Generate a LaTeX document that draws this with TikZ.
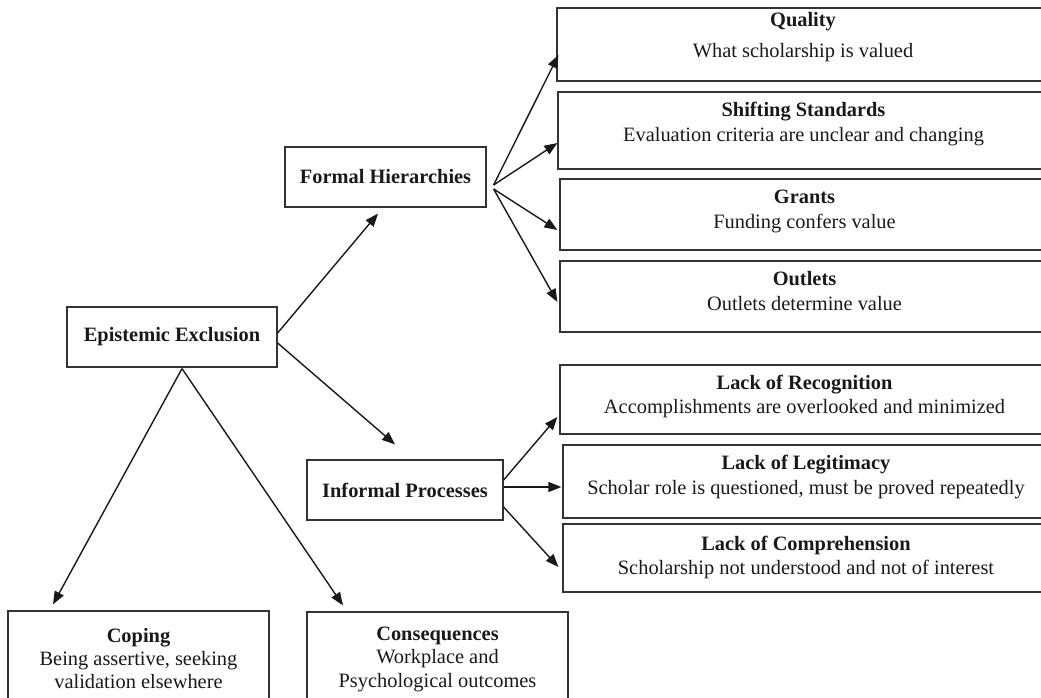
\documentclass[tikz,border=0pt]{standalone}
\usepackage{fontspec}
\setmainfont{Liberation Serif}
\usetikzlibrary{arrows.meta,calc}
\begin{document}
\begin{tikzpicture}[x=1pt,y=-1pt,
  box/.style={draw=black!80, line width=1.2pt, inner sep=0pt, rectangle},
  bigbox/.style={box, font=\fontsize{20.4}{25}\selectfont\bfseries, text=black!90},
  txt/.style={anchor=base, inner sep=0pt, font=\fontsize{20.4}{25}\selectfont, text=black!90},
  ttl/.style={anchor=base, inner sep=0pt, font=\fontsize{20.4}{25}\selectfont\bfseries, text=black!90},
  arr/.style={draw=black!90, line width=1.4pt, -{Triangle[length=13pt,width=10pt]}}]
\useasboundingbox (0,0) rectangle (1041,698);

% main boxes
\node[bigbox, minimum width=210pt, minimum height=60pt] (ee) at (172,337) {Epistemic Exclusion};
\node[bigbox, minimum width=201pt, minimum height=60pt] (fh) at (385.5,177) {Formal Hierarchies};
\node[bigbox, minimum width=196pt, minimum height=60pt] (ip) at (405,490) {Informal Processes};

% right boxes (formal)
\node[box, minimum width=492pt, minimum height=73pt] (q) at (803,44.5) {};
\node[ttl] (qt) at (803,27) {Quality};
\node[txt] (qs) at (803,58) {What scholarship is valued};

\node[box, minimum width=491pt, minimum height=77pt] (ss) at (803.5,130.5) {};
\node[ttl] (sst) at (803.5,117) {Shifting Standards};
\node[txt] (sss) at (803.5,142) {Evaluation criteria are unclear and changing};

\node[box, minimum width=489pt, minimum height=71pt] (gr) at (804.5,214.5) {};
\node[ttl] (grt) at (804.5,203) {Grants};
\node[txt] (grs) at (804.5,228) {Funding confers value};

\node[box, minimum width=489pt, minimum height=71pt] (ou) at (804.5,296.5) {};
\node[ttl] (out) at (804.5,285) {Outlets};
\node[txt] (ous) at (804.5,310) {Outlets determine value};

% right boxes (informal)
\node[box, minimum width=489pt, minimum height=69pt] (rec) at (804.5,399.5) {};
\node[ttl] (rect) at (804.5,389) {Lack of Recognition};
\node[txt] (recs) at (804.5,413) {Accomplishments are overlooked and minimized};

\node[box, minimum width=486pt, minimum height=73pt] (leg) at (806,481.5) {};
\node[ttl] (legt) at (806,469) {Lack of Legitimacy};
\node[txt] (legs) at (806,494) {Scholar role is questioned, must be proved repeatedly};

\node[box, minimum width=486pt, minimum height=68pt] (comp) at (806,558) {};
\node[ttl] (compt) at (806,550) {Lack of Comprehension};
\node[txt] (comps) at (806,574) {Scholarship not understood and not of interest};

% bottom boxes
\node[box, minimum width=261pt, minimum height=94pt] (cop) at (138.5,658) {};
\node[ttl] (copt) at (138.5,642) {Coping};
\node[txt] (cops1) at (138.5,665) {Being assertive, seeking};
\node[txt] (cops2) at (138.5,688) {validation elsewhere};

\node[box, minimum width=261pt, minimum height=93pt] (con) at (437.5,658.5) {};
\node[ttl] (cont) at (437.5,640) {Consequences};
\node[txt] (cons1) at (437.5,663) {Workplace and};
\node[txt] (cons2) at (437.5,687) {Psychological outcomes};

% connectors
\draw[arr] ($(ee.east)+(0,-4)$) -- ($(fh.south)+(-7.5,6)$);
\draw[arr] ($(ee.east)+(0,6)$) -- ($(ip.north)+(-10,-15)$);
\draw[arr] ($(ee.south)+(10,1)$) -- ($(cop.north)+(-85.5,-6)$);
\draw[arr] ($(ee.south)+(10,1)$) -- ($(con.north)+(-94.5,-6)$);

\coordinate (fho) at ($(fh.east)+(7,8)$);
\coordinate (fhl) at ($(fh.east)+(7,12)$);
\draw[arr] (fho) -- ($(q.west)+(2,10.5)$);
\draw[arr] (fho) -- ($(ss.west)+(0,12.5)$);
\draw[arr] (fhl) -- ($(gr.west)+(-2,15.5)$);
\draw[arr] (fhl) -- ($(ou.west)+(-2,5.5)$);

\draw[arr] ($(ip.east)+(0,-10)$) -- ($(rec.west)+(-2,17.5)$);
\draw[arr] ($(ip.east)+(0,-3)$) -- ($(leg.west)+(-1,5.5)$);
\draw[arr] ($(ip.east)+(0,17)$) -- ($(comp.west)+(-4,9)$);
\end{tikzpicture}
\end{document}
